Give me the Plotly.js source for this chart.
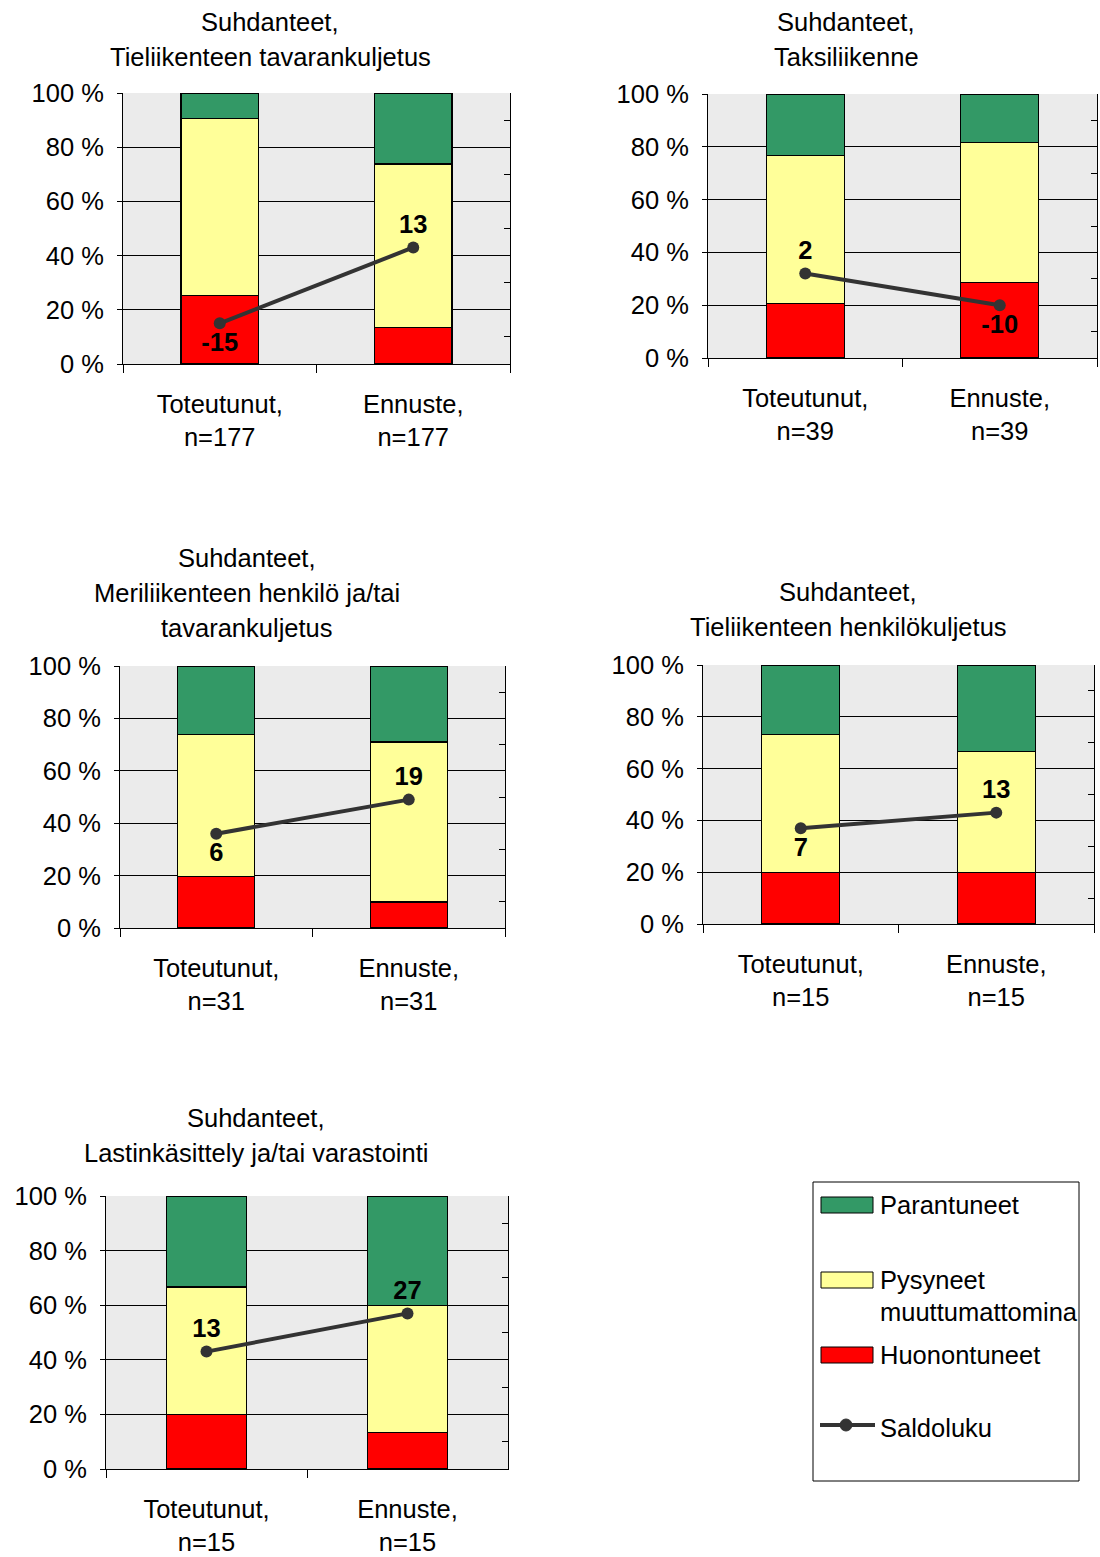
<!DOCTYPE html>
<html><head><meta charset="utf-8">
<script src="https://cdn.plot.ly/plotly-3.0.1.min.js"></script>
<style>html,body{margin:0;padding:0;background:#fff}</style>
</head><body><div id="chart" style="width:1100px;height:1557px"></div>
<script>
// ---------- data ----------
const categories = ['Toteutunut', 'Ennuste'];
const sampleSizes = [177, 39, 31, 15, 15];
const titleLines = [
  ['Suhdanteet,', 'Tieliikenteen tavarankuljetus'],
  ['Suhdanteet,', 'Taksiliikenne'],
  ['Suhdanteet,', 'Meriliikenteen henkilö ja/tai', 'tavarankuljetus'],
  ['Suhdanteet,', 'Tieliikenteen henkilökuljetus'],
  ['Suhdanteet,', 'Lastinkäsittely ja/tai varastointi']
];
const huonontuneet = [[25.2, 13.5], [20.7, 28.5], [19.8, 9.9], [20.0, 20.0], [20.0, 13.3]];
const pysyneet     = [[65.4, 60.3], [56.0, 53.2], [54.2, 61.1], [53.3, 46.7], [46.7, 46.7]];
const parantuneet  = [[9.4, 26.2],  [23.3, 18.3], [26.0, 29.0], [26.7, 33.3], [33.3, 40.0]];
const saldoluku    = [[-15, 13], [2, -10], [6, 19], [7, 13], [13, 27]];
const seriesNames = ['Parantuneet', 'Pysyneet muuttumattomina', 'Huonontuneet', 'Saldoluku'];

// ---------- layout config ----------
const W = 1100, H = 1557;
const FONT = 'Liberation Sans, Arial, sans-serif';
const FS = 25.5;
const colors = {par: '#339966', pys: '#FFFF99', huo: '#FF0000', line: '#333333'};
// plot boxes in pixels: [x0, x1, yTop, yBottom]
const boxes = [[123, 510, 93, 364], [708, 1097, 94, 358], [120, 505, 666, 928], [703, 1094, 665, 924], [106, 508, 1196, 1469]];
const titlePos = [[270, [22, 57]], [846, [22, 57]], [247, [558, 593, 628]], [848, [592, 627]], [256, [1118, 1153]]];
const labelPos = [['bottom center', 'top center'], ['top center', 'bottom center'], ['bottom center', 'top center'], ['bottom center', 'top center'], ['top center', 'top center']];

const px = x => x / W;
const py = y => 1 - y / H;

const traces = [];
const layout = {
  width: W, height: H,
  margin: {l: 0, r: 0, t: 0, b: 0},
  paper_bgcolor: '#ffffff',
  plot_bgcolor: '#ebebeb',
  showlegend: false,
  barmode: 'stack',
  font: {family: FONT, size: FS, color: '#000'},
  annotations: [],
  shapes: []
};

for (let k = 0; k < 5; k++) {
  const xs = k === 0 ? '' : String(k + 1);
  const yA = 2 * k + 1, yB = 2 * k + 2;
  const ys1 = yA === 1 ? '' : String(yA);
  const ys2 = String(yB);
  const xref = 'x' + xs, y1ref = 'y' + ys1, y2ref = 'y' + ys2;
  const b = boxes[k];
  const tickText = categories.map(c => c + ',<br>n=' + sampleSizes[k]);

  const barCommon = {type: 'bar', x: categories, xaxis: xref, yaxis: y1ref, width: 0.4,
    hoverinfo: 'skip'};
  traces.push(Object.assign({}, barCommon, {name: 'Huonontuneet', y: huonontuneet[k],
    marker: {color: colors.huo, line: {color: '#000', width: 1.2}}}));
  traces.push(Object.assign({}, barCommon, {name: 'Pysyneet muuttumattomina', y: pysyneet[k],
    marker: {color: colors.pys, line: {color: '#000', width: 1.2}}}));
  traces.push(Object.assign({}, barCommon, {name: 'Parantuneet', y: parantuneet[k],
    marker: {color: colors.par, line: {color: '#000', width: 1.2}}}));
  traces.push({type: 'scatter', mode: 'lines+markers+text', name: 'Saldoluku',
    x: categories, y: saldoluku[k], xaxis: xref, yaxis: y2ref,
    text: saldoluku[k].map(String), textposition: labelPos[k],
    textfont: {family: FONT, size: FS, color: '#000', weight: 'bold'},
    line: {color: colors.line, width: 4}, marker: {color: colors.line, size: 12},
    cliponaxis: false, hoverinfo: 'skip'});

  layout['xaxis' + xs] = {
    domain: [px(b[0]), px(b[1])], anchor: y1ref,
    type: 'category', categoryarray: categories, tickvals: categories, ticktext: tickText,
    range: [-0.5, 1.5], tickson: 'boundaries', ticks: 'outside', ticklen: 8, tickcolor: '#000',
    showline: true, linecolor: '#000', linewidth: 1, showgrid: false, zeroline: false,
    tickfont: {family: FONT, size: FS, color: '#000'}, ticklabelstandoff: 17, fixedrange: true
  };
  layout['yaxis' + ys1] = {
    domain: [py(b[3]), py(b[2])], anchor: xref,
    range: [0, 100], tickvals: [0, 20, 40, 60, 80, 100], ticktext: ['0 %', '20 %', '40 %', '60 %', '80 %', '100 %'],
    ticks: 'outside', ticklen: 5, tickcolor: '#000', showline: true, linecolor: '#000', linewidth: 1,
    showgrid: true, gridcolor: '#000', gridwidth: 1, zeroline: false,
    tickfont: {family: FONT, size: FS, color: '#000'}, ticklabelstandoff: 8, fixedrange: true
  };
  layout['yaxis' + ys2] = {
    overlaying: y1ref, side: 'right', anchor: xref,
    range: [-30, 70], dtick: 10, tick0: 0, ticks: 'inside', ticklen: 6, tickcolor: '#000',
    showticklabels: false, showline: true, linecolor: '#000', linewidth: 1,
    showgrid: false, zeroline: false, fixedrange: true
  };

  const tp = titlePos[k];
  titleLines[k].forEach((t, i) => {
    layout.annotations.push({text: t, xref: 'paper', yref: 'paper', x: px(tp[0]), y: py(tp[1][i]),
      xanchor: 'center', yanchor: 'middle', showarrow: false, font: {family: FONT, size: FS, color: '#000'}});
  });
}

// ---------- legend (drawn box) ----------
layout.shapes.push({type: 'rect', xref: 'paper', yref: 'paper', x0: px(813), x1: px(1079), y0: py(1481), y1: py(1182),
  line: {color: '#000', width: 1}, fillcolor: 'rgba(0,0,0,0)'});
const legendRows = [
  {name: 'Parantuneet', color: colors.par, y: 1205, lines: ['Parantuneet']},
  {name: 'Pysyneet', color: colors.pys, y: 1280, lines: ['Pysyneet', 'muuttumattomina']},
  {name: 'Huonontuneet', color: colors.huo, y: 1355, lines: ['Huonontuneet']}
];
legendRows.forEach(r => {
  layout.shapes.push({type: 'rect', xref: 'paper', yref: 'paper', x0: px(821), x1: px(873), y0: py(r.y + 8), y1: py(r.y - 8),
    line: {color: '#000', width: 1}, fillcolor: r.color});
  r.lines.forEach((t, i) => {
    layout.annotations.push({text: t, xref: 'paper', yref: 'paper', x: px(878), y: py(r.y + i * 32),
      xanchor: 'left', yanchor: 'middle', showarrow: false, font: {family: FONT, size: FS, color: '#000'}});
  });
});
layout.shapes.push({type: 'line', xref: 'paper', yref: 'paper', x0: px(820), x1: px(875), y0: py(1425), y1: py(1425),
  line: {color: colors.line, width: 4}});
layout.shapes.push({type: 'circle', xref: 'paper', yref: 'paper', x0: px(840), x1: px(852), y0: py(1431), y1: py(1419),
  line: {color: colors.line, width: 1}, fillcolor: colors.line});
layout.annotations.push({text: 'Saldoluku', xref: 'paper', yref: 'paper', x: px(878), y: py(1428),
  xanchor: 'left', yanchor: 'middle', showarrow: false, font: {family: FONT, size: FS, color: '#000'}});

Plotly.newPlot('chart', traces, layout, {staticPlot: true, displayModeBar: false});
</script>
</body></html>
